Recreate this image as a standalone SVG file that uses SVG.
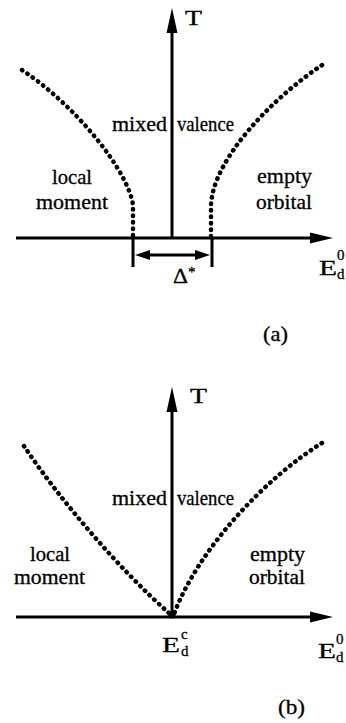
<svg xmlns="http://www.w3.org/2000/svg" width="346" height="723" viewBox="0 0 346 723">
<style>
text{font-family:"Liberation Serif","Times New Roman",serif;fill:#000;font-size:21px;stroke:#000;stroke-width:0.3}
.ax{stroke:#000;stroke-width:3;fill:none}
.dot{stroke:#000;stroke-width:4.5;fill:none;stroke-linecap:round;stroke-dasharray:0.5 6}
.head{fill:#000}
.sm{font-size:15px}
.lb{font-size:20px}
</style>
<rect width="346" height="723" fill="#fff"/>
<g id="panel-a">
  <g id="connectors-a">
    <line class="ax" x1="172" y1="238" x2="172" y2="28"/>
    <polygon class="head" points="172,8 166.5,33 177.5,33"/>
    <line class="ax" x1="16" y1="238" x2="312" y2="238"/>
    <polygon class="head" points="333,238 310,232.5 310,243.5"/>
    <path class="dot" d="M22,70 C75,105 128,170 133,205 L133,236"/>
    <path class="dot" d="M322,65 C270,100 213,160 211,205 L211,236"/>
    <line class="ax" x1="133" y1="238" x2="133" y2="267" stroke-width="2.5"/>
    <line class="ax" x1="212" y1="238" x2="212" y2="267" stroke-width="2.5"/>
    <line class="ax" x1="146" y1="255" x2="199" y2="255" stroke-width="2.5"/>
    <polygon class="head" points="135,255 150,250 150,260"/>
    <polygon class="head" points="210,255 195,250 195,260"/>
  </g>
  <g id="labels-a">
    <text x="185" y="25" font-size="25" textLength="17" lengthAdjust="spacingAndGlyphs">T</text>
    <text x="112" y="131" textLength="55" lengthAdjust="spacingAndGlyphs">mixed</text>
    <text x="177" y="131" textLength="57" lengthAdjust="spacingAndGlyphs">valence</text>
    <text x="52" y="184" textLength="40" lengthAdjust="spacingAndGlyphs">local</text>
    <text x="36" y="209" textLength="72" lengthAdjust="spacingAndGlyphs">moment</text>
    <text x="257" y="183" textLength="55" lengthAdjust="spacingAndGlyphs">empty</text>
    <text x="256" y="209" textLength="56" lengthAdjust="spacingAndGlyphs">orbital</text>
    <text x="173" y="283" font-size="20" textLength="15" lengthAdjust="spacingAndGlyphs">Δ</text>
    <text x="188" y="277" class="sm">*</text>
    <text x="319" y="275" textLength="18" lengthAdjust="spacingAndGlyphs">E</text>
    <text x="337" y="260" class="sm">0</text>
    <text x="337" y="279" class="sm">d</text>
    <text x="263" y="341" textLength="25" lengthAdjust="spacingAndGlyphs">(a)</text>
  </g>
</g>
<g id="panel-b">
  <g id="connectors-b">
    <line class="ax" x1="172" y1="617" x2="172" y2="408"/>
    <polygon class="head" points="172,387 166.5,412 177.5,412"/>
    <line class="ax" x1="16" y1="617" x2="312" y2="617"/>
    <polygon class="head" points="333,617 310,611.5 310,622.5"/>
    <path class="dot" d="M24,446 C60,500 120,570 170,614"/>
    <path class="dot" d="M322,443 C270,475 200,545 174,614"/>
    <circle cx="172" cy="615" r="3.5" fill="#000"/>
  </g>
  <g id="labels-b">
    <text x="190" y="403" font-size="23" textLength="17" lengthAdjust="spacingAndGlyphs">T</text>
    <text x="112" y="505" textLength="55" lengthAdjust="spacingAndGlyphs">mixed</text>
    <text x="177" y="505" textLength="57" lengthAdjust="spacingAndGlyphs">valence</text>
    <text x="30" y="561" class="lb" textLength="40" lengthAdjust="spacingAndGlyphs">local</text>
    <text x="14" y="584" class="lb" textLength="71" lengthAdjust="spacingAndGlyphs">moment</text>
    <text x="250" y="561" class="lb" textLength="55" lengthAdjust="spacingAndGlyphs">empty</text>
    <text x="249" y="584" class="lb" textLength="56" lengthAdjust="spacingAndGlyphs">orbital</text>
    <text x="162" y="652" textLength="18" lengthAdjust="spacingAndGlyphs">E</text>
    <text x="181" y="639" class="sm">c</text>
    <text x="181" y="656" class="sm">d</text>
    <text x="318" y="658" textLength="18" lengthAdjust="spacingAndGlyphs">E</text>
    <text x="336" y="644" class="sm">0</text>
    <text x="336" y="662" class="sm">d</text>
    <text x="278" y="714" textLength="27" lengthAdjust="spacingAndGlyphs">(b)</text>
  </g>
</g>
</svg>
